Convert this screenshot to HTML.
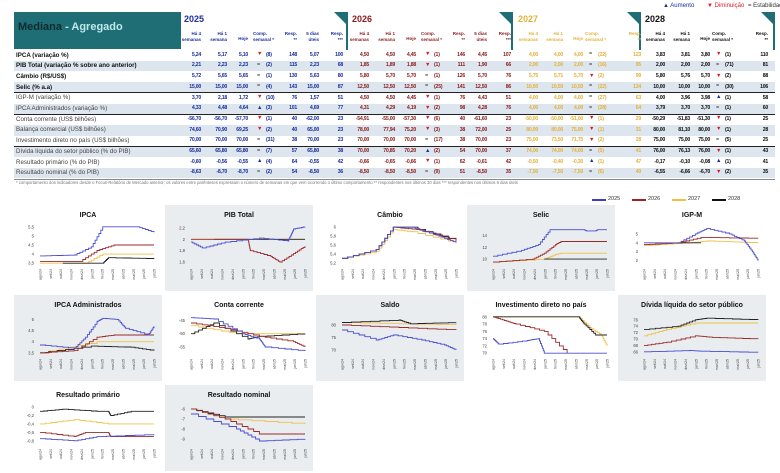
<!DOCTYPE html>
<html><head><meta charset="utf-8">
<style>
body{margin:0;width:780px;height:473px;background:#fff;font-family:"Liberation Sans",sans-serif;overflow:hidden;position:relative}
.a{position:absolute;white-space:nowrap}
</style></head><body>
<div id="root"></div>
<script>
const R=document.getElementById('root');
function d(x,y,w,h,bg,extra){const e=document.createElement('div');e.className='a';e.style.cssText=`left:${x}px;top:${y}px;width:${w}px;height:${h}px;background:${bg};`+(extra||'');R.appendChild(e);return e}
function t(x,y,s,sz,col,extra){const e=document.createElement('div');e.className='a';e.style.cssText=`left:${x}px;top:${y}px;font-size:${sz}px;color:${col};line-height:1;`+(extra||'');e.textContent=s;R.appendChild(e);return e}
const TEAL='#1f6e76';
d(14,12,167,37,TEAL);
const hd=t(18,22,'',11,'#0d2b30','font-weight:bold');hd.innerHTML='Mediana <span style="color:#bfe8ea">- Agregado</span>';
const blocks=[{x:182,w:166,y:'2025',c:'#1b2f9e',cols:8},{x:350,w:163,y:'2026',c:'#8b1c1c',cols:8},{x:516,w:125,y:'2027',c:'#e3b23c',cols:7},{x:643,w:132,y:'2028',c:'#111',cols:7}];
const labels=['IPCA (variação %)','PIB Total (variação % sobre ano anterior)','Câmbio (R$/US$)','Selic (% a.a)','IGP-M (variação %)','IPCA Administrados (variação %)','Conta corrente (US$ bilhões)','Balança comercial (US$ bilhões)','Investimento direto no país (US$ bilhões)','Dívida líquida do setor público (% do PIB)','Resultado primário (% do PIB)','Resultado nominal (% do PIB)'];
const rowY=i=>50+i*10.7;
for(let i=0;i<12;i++){ if(i%2==1) d(14,rowY(i),761,10.7,'#dde6ee');
  t(16,rowY(i)+2.5,labels[i],6.2,i<4?'#111':'#444',i<4?'font-weight:bold':'');}
[4,6,9].forEach(i=>{d(14,rowY(i)-0.5,761,1,'#222')});
d(14,178.5,761,0.6,'#888');
const D={
'2025':`5,24 5,17 5,10 v (8) 148 5,07 100|2,21 2,23 2,23 = (2) 115 2,23 68|5,72 5,65 5,65 = (1) 130 5,63 80|15,00 15,00 15,00 = (4) 143 15,00 87|3,70 2,18 1,72 v (10) 76 1,57 51|4,33 4,48 4,64 ^ (3) 101 4,69 77|-56,70 -56,70 -57,70 v (1) 40 -62,00 23|74,60 70,90 69,25 v (2) 40 65,00 23|70,00 70,00 70,00 = (31) 38 70,00 23|65,60 65,80 65,80 = (7) 57 65,80 38|-0,60 -0,56 -0,55 ^ (4) 64 -0,55 42|-8,63 -8,70 -8,70 = (2) 54 -8,50 36`,
'2026':`4,50 4,50 4,45 v (1) 146 4,45 107|1,85 1,89 1,88 v (1) 111 1,90 66|5,80 5,70 5,70 = (1) 126 5,70 76|12,50 12,50 12,50 = (25) 141 12,50 86|4,50 4,50 4,45 v (1) 76 4,43 51|4,31 4,29 4,19 v (2) 98 4,28 76|-54,91 -55,00 -57,30 v (6) 40 -61,60 23|78,00 77,94 75,20 v (3) 38 72,00 25|70,00 70,00 70,00 = (17) 38 70,00 23|70,00 70,85 70,20 ^ (2) 54 70,00 37|-0,66 -0,65 -0,66 v (1) 62 -0,61 42|-8,50 -8,50 -8,50 = (9) 51 -8,50 35`,
'2027':`4,00 4,00 4,00 = (22) 123|2,00 2,00 2,00 = (16) 95|5,75 5,71 5,70 v (2) 99|10,50 10,50 10,50 = (22) 134|4,00 4,00 4,00 = (27) 63|4,00 4,00 4,00 = (28) 64|-50,00 -50,00 -51,00 v (1) 29|80,00 80,00 75,00 v (1) 31|75,00 73,50 71,75 v (2) 28|74,00 74,00 74,00 = (5) 41|-0,50 -0,40 -0,30 ^ (1) 47|-7,50 -7,50 -7,50 = (6) 40`,
'2028':`3,83 3,81 3,80 v (1) 110|2,00 2,00 2,00 = (71) 81|5,80 5,76 5,70 v (2) 88|10,00 10,00 10,00 = (30) 106|4,00 3,96 3,98 ^ (1) 58|3,79 3,70 3,70 = (1) 60|-50,29 -51,83 -51,30 v (1) 25|80,00 81,10 80,00 v (1) 28|75,00 75,00 75,00 = (5) 25|76,00 76,13 76,00 v (1) 43|-0,17 -0,10 -0,08 ^ (1) 41|-6,55 -6,66 -6,70 v (2) 35`};
blocks.forEach(b=>{
  d(b.x+b.w-14,12,14,14,TEAL,'clip-path:polygon(0 0,100% 0,100% 100%)');
  d(b.x+b.w-2,12,2,38,TEAL);
  t(b.x+2,15,b.y,9,b.y=='2027'?'#e3b23c':(b.y=='2028'?'#111':b.c),'font-weight:bold');
  const full=b.cols==8;
  const offs=full?[19,45,66,78,84,115,137,161]:[22,47,67,76,82,125];
  const heads=full?['Há 4|semanas','Há 1|semana','Hoje','Comp.|semanal *','','Resp.|**','5 dias|úteis','Resp.|***']:['Há 4|semanas','Há 1|semana','Hoje','Comp.|semanal *','','Resp.|**'];
  heads.forEach((h,k)=>{if(!h)return;const e=t(b.x+offs[k]-22,k==2?36:31,'',4.5,b.c,'width:22px;text-align:right;font-weight:bold;line-height:6px');e.innerHTML=h.replace('|','<br>'); if(k==3){e.style.textAlign='left';e.style.left=(b.x+offs[k]-7)+'px';e.style.width='30px'}});
  D[b.y].split('|').forEach((r,i)=>{const v=r.split(' ');const y=rowY(i)+2.7;
    v.forEach((s,k)=>{let col=b.c;
      if(k==3){ if(s=='v'){s='▼';col='#d41e2a'} else if(s=='^'){s='▲';col='#1b2f9e'} else {s='=';col='#333'}
        t(b.x+offs[k]-3,y-0.5,s,5.5,col);return;}
      if(k==4){t(b.x+offs[k],y,s,5.2,b.c,'font-weight:bold;letter-spacing:-0.2px');return;}
      t(b.x+offs[k]-26,y,s,5.2,b.c,'width:26px;text-align:right;font-weight:bold;letter-spacing:-0.25px');});
  });
});
t(16,181,'* comportamento dos indicadores desde o Focus-Relatório de Mercado anterior; os valores entre parênteses expressam o número de semanas em que vem ocorrendo o último comportamento ** respondentes nos últimos 30 dias *** respondentes nos últimos 5 dias úteis',4.2,'#777');
t(663,3,'▲ Aumento',6,'#1b2f9e');t(707,3,'▼ Diminuição',6,'#d41e2a');t(748,3,'= Estabilidade',6,'#333');
[['2025','#3b3fc4',610],['2026','#9b2424',650],['2027','#f0c040',690],['2028','#111',730]].forEach(l=>{d(l[2]-18,199,14,1.5,l[1]);t(l[2]-2,196.5,l[0],5.5,'#333')});
const C={b:'#4a4ed0',r:'#9b2a2a',g:'#f0c24a',k:'#222'};
const charts=[
['IPCA',0,0,0,[3.4,5.6],[3.5,4,4.5,5,5.5],{b:[[0,3.9],[.3,3.95],[.45,4.4],[.55,5.5],[.85,5.5],[1,5.2]],r:[[0,3.6],[.35,3.6],[.5,4.2],[.65,4.5],[1,4.5]],g:[[0,3.5],[.4,3.5],[.55,4],[1,4]],k:[[.2,3.5],[.55,3.5],[.6,3.8],[1,3.75]]}],
['PIB Total',1,0,1,[1.55,2.25],[1.6,1.8,2,2.2],{g:[[0,2],[1,2]],k:[[.2,2],[1,2]],b:[[0,1.95],[.1,1.85],[.3,1.95],[.6,2.02],[.85,1.97],[.9,2.18],[1,2.22]],r:[[0,2],[.5,2],[.52,1.8],[.7,1.7],[.78,1.6],[.9,1.75],[1,1.88]]}],
['Câmbio',2,0,0,[5.15,6.05],[5.2,5.4,5.6,5.8,6],{g:[[0,5.3],[.3,5.45],[.45,5.95],[.6,5.9],[1,5.65]],k:[[0,5.3],[.3,5.5],[.45,6],[.6,6],[1,5.7]],r:[[0,5.3],[.3,5.5],[.45,6],[.65,5.95],[1,5.7]],b:[[0,5.3],[.3,5.5],[.45,6],[.6,6],[.85,5.8],[1,5.65]]}],
['Selic',3,0,1,[9,15.8],[10,12,14],{b:[[0,10.5],[.25,11.5],[.4,12.5],[.5,15],[.8,15],[.82,14.8],[.9,14.8],[.92,15],[1,15]],r:[[0,9.5],[.35,10],[.45,11],[.55,12.5],[.6,13],[1,13]],g:[[0,9.5],[.45,10],[.55,10.8],[.6,11],[1,11]],k:[[.45,10],[1,10]]}],
['IGP-M',4,0,0,[1.5,6],[2,3,4,5],{g:[[0,3.7],[.4,4],[.55,4.2],[1,4]],k:[[.3,4],[.5,4]],r:[[0,3.8],[.3,4],[.5,4.6],[1,4.5]],b:[[0,4],[.3,4],[.45,5],[.55,5.6],[.75,5],[.88,4.2],[.95,3],[1,2]]}],
['IPCA Administrados',0,1,1,[3.4,5.2],[3.5,4,4.5,5],{g:[[0,3.5],[.5,4],[1,4]],k:[[0,3.5],[.45,3.8],[.8,3.75],[1,3.6]],r:[[0,3.5],[.3,3.6],[.5,4.2],[.65,4.3],[1,4.3]],b:[[0,3.85],[.3,3.7],[.4,4.2],[.5,4.9],[.55,5.05],[.68,5],[.75,4.6],[.95,4.3],[1,4.7]]}],
['Conta corrente',1,1,0,[-58,-43],[-45,-50,-55],{g:[[0,-47],[.4,-50],[1,-50]],k:[[0,-50],[.2,-46],[.5,-52],[.6,-51],[1,-50]],r:[[0,-46],[.3,-48],[.6,-51],[.9,-53],[1,-55]],b:[[0,-44],[.2,-44.5],[.45,-50],[.6,-52],[.65,-55],[1,-56.5]]}],
['Saldo',2,1,1,[68,84],[70,75,80],{g:[[0,81],[1,80]],k:[[0,81],[.5,82],[.6,80.5],[1,81]],r:[[0,80],[.5,79],[1,78]],b:[[0,78],[.3,74],[.45,76],[.7,74],[.9,72],[1,70]]}],
['Investimento direto no país',3,1,0,[69.5,80.5],[70,72,74,76,78,80],{b:[[0,74],[.05,72.5],[.3,73.5],[.4,74],[.45,70],[1,70]],r:[[0,80],[.1,79],[.2,78],[.45,76],[.65,70]],g:[[0,80],[.75,80],[.85,77],[.95,75],[1,72]],k:[[0,80],[.75,80],[.8,78],[.9,75],[1,75]]}],
['Dívida líquida do setor público',4,1,1,[65,77.5],[66,68,70,72,74,76],{b:[[0,66],[.4,66.4],[.5,66.2],[1,65.8]],r:[[0,68],[.2,69],[.45,71],[.6,70.5],[1,70]],g:[[0,71],[.2,73],[.45,75],[1,75]],k:[[0,73],[.3,74],[.45,76],[.55,76.5],[1,76]]}],
['Resultado primário',0,2,0,[-0.9,0.05],[0,-0.2,-0.4,-0.6,-0.8],{g:[[0,-0.4],[.3,-0.3],[.6,-0.4],[1,-0.4]],k:[[0,-0.1],[.2,-0.05],[.5,-0.1],[.6,-0.1],[.62,-0.2],[.8,-0.1],[1,-0.1]],r:[[0,-0.6],[.3,-0.7],[.4,-0.6],[.6,-0.6],[.62,-0.7],[1,-0.7]],b:[[0,-0.75],[.3,-0.8],[.5,-0.7],[1,-0.65]]}],
['Resultado nominal',1,2,1,[-9.6,-5.6],[-6,-7,-8,-9],{g:[[0,-6],[.3,-7],[1,-7.5]],k:[[0,-6],[.3,-6.8],[1,-6.8]],r:[[0,-6],[.3,-7],[.6,-8.5],[1,-8.5]],b:[[0,-6.5],[.4,-8],[.6,-9.2],[1,-9]]}]
];
const months=['ago/24','set/24','out/24','nov/24','dez/24','jan/25','fev/25','mar/25','abr/25','mai/25','jun/25','jul/25'];
charts.forEach(c=>{
  const [title,col,row,shade,yl,yt,S]=c;
  const X=14+col*151,Y=205+row*90,W=148,H=86;
  let s=`<svg class="a" style="left:${X}px;top:${Y}px" width="${W}" height="${H}" xmlns="http://www.w3.org/2000/svg">`;
  if(shade) s+=`<rect width="${W}" height="${H}" fill="#e9edf0"/>`;
  s+=`<text x="${W/2}" y="12" font-size="7" font-weight="bold" text-anchor="middle" fill="#111" font-family="Liberation Sans">${title}</text>`;
  const px0=26,px1=140,py0=20,py1=60;
  const fy=v=>py1-(v-yl[0])/(yl[1]-yl[0])*(py1-py0),fx=u=>px0+u*(px1-px0);
  yt.forEach(v=>{s+=`<text x="${px0-6}" y="${fy(v)+1.5}" font-size="4.2" text-anchor="end" fill="#444" font-family="Liberation Sans">${String(v).replace('.',',')}</text>`});
  months.forEach((m,i)=>{const x=fx(i/11)+1.5;s+=`<text transform="translate(${x},${py1+4}) rotate(-90)" font-size="3.6" text-anchor="end" fill="#444" font-family="Liberation Sans">${m}</text>`});
  ['g','k','r','b'].forEach(k=>{if(!S[k])return;let p=S[k];let pts=[];
    for(let i=0;i<p.length;i++){if(i>0){const a=p[i-1],b=p[i];const n=6;for(let j=1;j<=n;j++){const u=a[0]+(b[0]-a[0])*j/n;pts.push([fx(a[0]+(b[0]-a[0])*(j-1)/n+ (b[0]-a[0])/n),fy(a[1]+(b[1]-a[1])*(j-1)/(n))]);pts.push([fx(u),fy(a[1]+(b[1]-a[1])*j/n)])}}else pts.push([fx(p[0][0]),fy(p[0][1])])}
    s+=`<polyline fill="none" stroke="${C[k]}" stroke-width="0.9" points="${pts.map(q=>q[0].toFixed(1)+','+q[1].toFixed(1)).join(' ')}"/>`});
  s+='</svg>';R.insertAdjacentHTML('beforeend',s);
});
</script>
</body></html>
